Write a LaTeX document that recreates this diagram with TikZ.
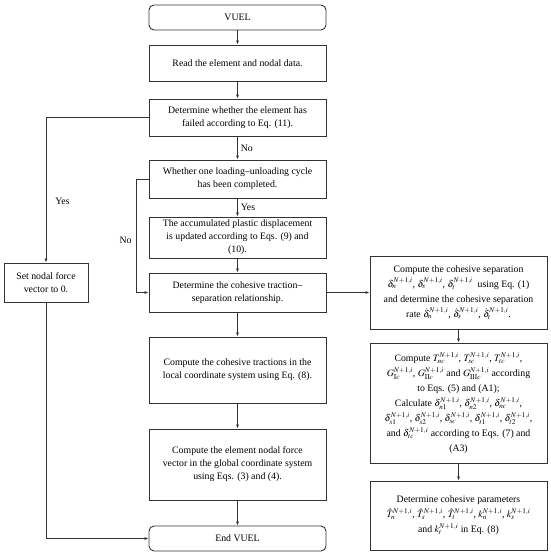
\documentclass[tikz,border=0pt]{standalone}
\usepackage{mathptmx}
\usepackage{fontspec}
\setmainfont{Liberation Serif}
\usetikzlibrary{arrows.meta}
\begin{document}
\begin{tikzpicture}[x=1pt,y=-1pt,
  box/.style={draw=black!80,line width=0.9pt,align=center,inner sep=1pt,
    font=\fontsize{9.8}{13}\selectfont,minimum width=177pt},
  mbox/.style={box,font=\fontsize{9.8}{15}\selectfont},
  rbox/.style={box,rounded corners=5pt},
  arr/.style={draw=black!80,line width=0.7pt,-{Latex[length=4pt,width=3pt]}},
  lab/.style={font=\fontsize{9.8}{13}\selectfont,inner sep=1pt}]
\useasboundingbox (0,0) rectangle (550,557);
\node[rbox,minimum height=25pt] (vuel) at (237.5,17.5) {VUEL};
\node[box,minimum height=36pt] (read) at (237.5,63) {Read the element and nodal data.};
\node[box,minimum height=37pt] (fail) at (237.5,117.5) {Determine whether the element has\\failed according to Eq. (11).};
\node[box,minimum height=38pt] (whe) at (237.5,179) {Whether one loading–unloading cycle\\has been completed.};
\node[box,minimum height=41pt] (acc) at (237.5,237.5) {The accumulated plastic displacement\\is updated according to Eqs. (9) and\\(10).};
\node[box,minimum height=39pt] (rel) at (237.5,292.5) {Determine the cohesive traction–\\separation relationship.};
\node[box,minimum height=66pt] (trac) at (237.5,370) {Compute the cohesive tractions in the\\local coordinate system using Eq. (8).};
\node[box,minimum height=71pt] (nod) at (237.5,464.5) {Compute the element nodal force\\vector in the global coordinate system\\using Eqs. (3) and (4).};
\node[rbox,minimum height=25pt] (end) at (237.5,538.5) {End VUEL};
\node[box,minimum width=84pt,minimum height=39pt] (set) at (46,282.5) {Set nodal force\\vector to 0.};
\node[mbox,minimum height=73pt] (r1) at (458.5,292.5) {Compute the cohesive separation\\
$\delta_n^{N+1,i}$, $\delta_s^{N+1,i}$, $\delta_t^{N+1,i}$ \ using Eq. (1)\\
and determine the cohesive separation\\
rate $\dot\delta_n^{N+1,i}$, $\dot\delta_s^{N+1,i}$, $\dot\delta_t^{N+1,i}$.};
\node[mbox,minimum height=120pt] (r2) at (458.5,403) {Compute $T_{nc}^{N+1,i}$, $T_{sc}^{N+1,i}$, $T_{tc}^{N+1,i}$,\\
$G_{\mathrm{I}c}^{N+1,i}$, $G_{\mathrm{II}c}^{N+1,i}$ and $G_{\mathrm{III}c}^{N+1,i}$ according\\
to Eqs. (5) and (A1);\\
Calculate $\delta_{n1}^{N+1,i}$, $\delta_{n2}^{N+1,i}$, $\delta_{nc}^{N+1,i}$,\\
$\delta_{s1}^{N+1,i}$, $\delta_{s2}^{N+1,i}$, $\delta_{sc}^{N+1,i}$, $\delta_{t1}^{N+1,i}$, $\delta_{t2}^{N+1,i}$,\\
and $\delta_{tc}^{N+1,i}$ according to Eqs. (7) and\\
(A3)};
\node[mbox,minimum height=69pt] (r3) at (458.5,515.5) {Determine cohesive parameters\\
$\hat T_n^{N+1,i}$, $\hat T_s^{N+1,i}$, $\hat T_t^{N+1,i}$, $k_n^{N+1,i}$, $k_s^{N+1,i}$\\
and $k_t^{N+1,i}$ in Eq. (8)};
% main flow
\draw[arr] (vuel) -- (read);
\draw[arr] (read) -- (fail);
\draw[arr] (fail) -- node[lab,right=2pt] {No} (whe);
\draw[arr] (whe) -- node[lab,right=2pt] {Yes} (acc);
\draw[arr] (acc) -- (rel);
\draw[arr] (rel) -- (trac);
\draw[arr] (trac) -- (nod);
\draw[arr] (nod) -- (end);
% yes branch
\draw[arr] (fail.west) -| node[lab,pos=0.79,right=8pt] {Yes} (set.north);
\draw[arr] (set.south) |- (end.west);
% no loop
\coordinate (nl) at (136,179);
\draw[arr] (whe.west) -- (nl) |- node[lab,pos=0.27,left=3pt] {No} (rel.west);
% right column
\draw[arr] (rel.east) -- (r1.west);
\draw[arr] (r1) -- (r2);
\draw[arr] (r2) -- (r3);
\end{tikzpicture}
\end{document}
